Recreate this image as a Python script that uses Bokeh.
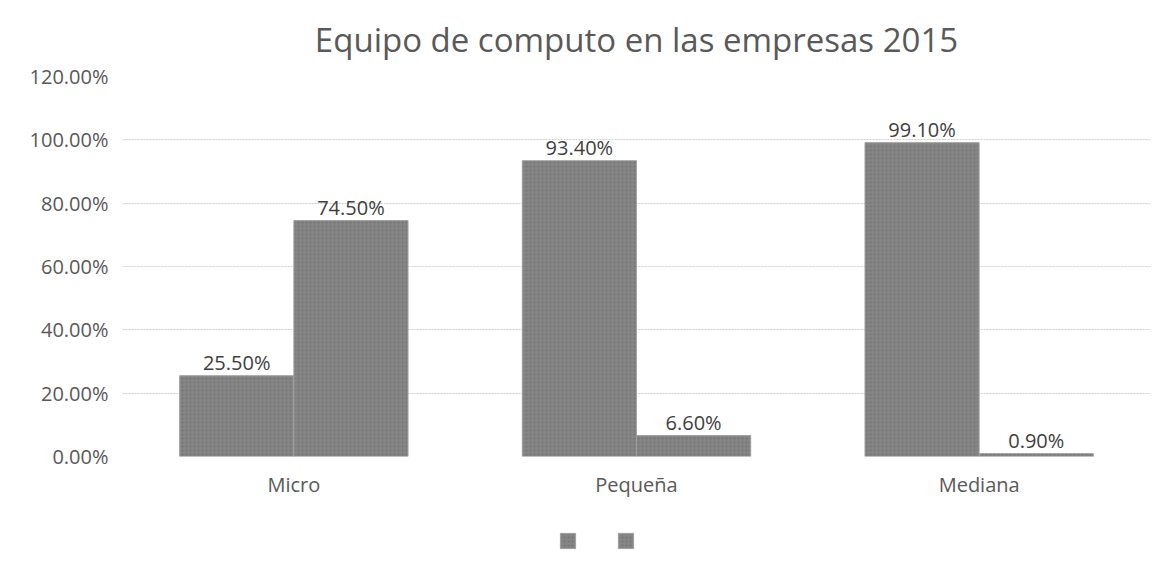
from bokeh.plotting import figure
from bokeh.layouts import column
from bokeh.models import ColumnDataSource, FactorRange, Range1d, Legend, LegendItem, LabelSet, FixedTicker, NumeralTickFormatter
from bokeh.transform import dodge
from bokeh.core.properties import value
from bokeh.embed import file_html
from bokeh.resources import INLINE

categories = ["Micro", "Pequeña", "Mediana"]
serie_1 = [0.255, 0.934, 0.991]
serie_2 = [0.745, 0.066, 0.009]
y_ticks = [0.0, 0.2, 0.4, 0.6, 0.8, 1.0, 1.2]

FONT = "Open Sans"

src = ColumnDataSource(dict(
    cat=categories,
    s1=serie_1,
    s2=serie_2,
    l1=[f"{v*100:.2f}%" for v in serie_1],
    l2=[f"{v*100:.2f}%" for v in serie_2],
))

p = figure(
    x_range=FactorRange(*categories, range_padding=0),
    y_range=Range1d(0, 1.2),
    width=1154, height=520,
    output_backend="svg", toolbar_location=None,
    min_border_left=122, min_border_right=4, min_border_top=76, min_border_bottom=64,
)

p.title.text = "Equipo de computo en las empresas 2015"
p.title.align = "center"
p.title.text_font = FONT
p.title.text_font_size = "33px"
p.title.text_font_style = "normal"
p.title.text_color = "#595959"
p.title.standoff = 29

p.outline_line_color = None
p.background_fill_color = "white"
p.border_fill_color = "white"

bar_kw = dict(width=0.333, fill_color="#858585", line_color="#a0a0a0", line_width=1,
              hatch_pattern=".", hatch_color="#727272", hatch_scale=4, hatch_weight=1)
p.vbar(x=dodge("cat", -0.1667, range=p.x_range), top="s1", source=src, **bar_kw)
p.vbar(x=dodge("cat", 0.1667, range=p.x_range), top="s2", source=src, **bar_kw)

for col, lab, off in (("s1", "l1", -0.1667), ("s2", "l2", 0.1667)):
    p.add_layout(LabelSet(x=dodge("cat", off, range=p.x_range), y=col, text=lab, source=src,
                          text_align="center", text_baseline="bottom", y_offset=0,
                          text_font=value(FONT), text_font_size="20px", text_color="#404040"))

p.yaxis.ticker = FixedTicker(ticks=y_ticks)
p.yaxis.formatter = NumeralTickFormatter(format="0.00%")
for ax in (p.xaxis, p.yaxis):
    ax.axis_line_color = None
    ax.major_tick_line_color = None
    ax.minor_tick_line_color = None
    ax.major_label_text_font = FONT
    ax.major_label_text_font_size = "20px"
    ax.major_label_text_color = "#595959"
p.yaxis.major_label_standoff = 8
p.xaxis.major_label_standoff = 8

p.xgrid.grid_line_color = None
p.ygrid.ticker = FixedTicker(ticks=y_ticks)
p.ygrid.grid_line_color = "#d0d0d0"
p.ygrid.grid_line_dash = "2 1"
p.ygrid.grid_line_width = 1

# legend strip (series swatches without names); proxy glyphs sit outside the visible range
p2 = figure(width=1154, height=46, output_backend="svg", toolbar_location=None,
            x_range=Range1d(0, 1), y_range=Range1d(1, 2),
            x_axis_type=None, y_axis_type=None, min_border=0)
p2.outline_line_color = None
p2.xgrid.grid_line_color = None
p2.ygrid.grid_line_color = None
d1 = p2.vbar(x=[-5], top=[-5], bottom=[-6], **bar_kw)
d2 = p2.vbar(x=[-5], top=[-5], bottom=[-6], **bar_kw)
legend = Legend(items=[LegendItem(label="", renderers=[d1]), LegendItem(label="", renderers=[d2])],
                orientation="horizontal", location=(436, 16),
                glyph_width=19, glyph_height=19, label_width=1, label_standoff=0,
                label_height=19, spacing=38, border_line_color=None, background_fill_alpha=0,
                label_text_font_size="10px", margin=0, padding=0)
p2.add_layout(legend)

layout = column(p, p2, spacing=0)
open("out.html", "w").write(file_html(layout, INLINE))
